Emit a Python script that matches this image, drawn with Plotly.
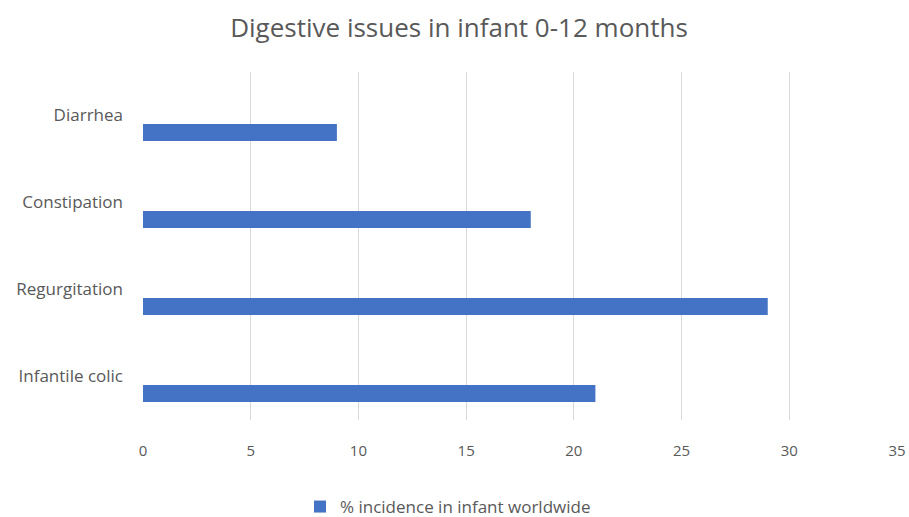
import plotly.graph_objects as go

categories = ["Diarrhea", "Constipation", "Regurgitation", "Infantile colic"]
values = [9, 18, 29, 21]
series_name = "% incidence in infant worldwide"
x_ticks = [0, 5, 10, 15, 20, 25, 30, 35]

W, H = 909, 517

fig = go.Figure()
fig.add_trace(go.Bar(
    y=categories,
    x=values,
    orientation="h",
    name=series_name,
    marker=dict(color="#4472C4", line=dict(width=0)),
    width=0.195,
    offset=-0.293,
    showlegend=True,
))

fig.update_layout(
    width=W,
    height=H,
    margin=dict(l=143, r=12, t=72, b=97, autoexpand=False),
    paper_bgcolor="white",
    plot_bgcolor="white",
    title=dict(
        text="Digestive issues in infant 0-12 months",
        x=459 / W, xanchor="center", xref="container",
        y=1 - 28 / H, yanchor="middle", yref="container",
        font=dict(family="Open Sans", size=26, color="#595959"),
    ),
    font=dict(family="Open Sans", size=15, color="#595959"),
    xaxis=dict(
        range=[0, 35],
        tickvals=x_ticks,
        showgrid=True,
        gridcolor="#d9d9d9",
        gridwidth=1,
        zeroline=False,
        showline=False,
        automargin=False,
        ticklabelstandoff=20,
        tickfont=dict(size=15, color="#595959"),
        fixedrange=True,
    ),
    yaxis=dict(
        categoryorder="array",
        categoryarray=categories[::-1],
        range=[-0.5, 3.5],
        showgrid=False,
        zeroline=False,
        showline=False,
        automargin=False,
        ticklabelstandoff=19,
        tickfont=dict(size=17, color="#595959"),
    ),
    legend=dict(
        orientation="h",
        xref="container", yref="container",
        x=300 / W, xanchor="left",
        y=(H - 507) / H, yanchor="middle",
        itemwidth=30,
        font=dict(size=17, color="#595959"),
    ),
    showlegend=True,
)

fig.write_html("out.html")
